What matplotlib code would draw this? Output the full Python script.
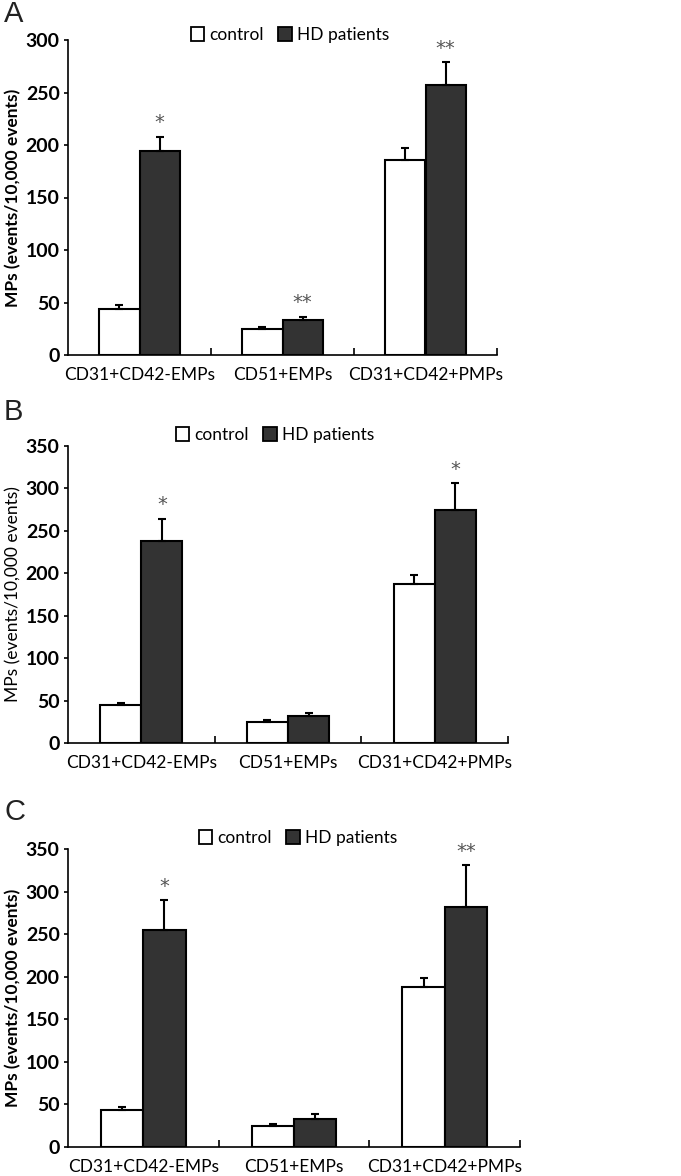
import matplotlib
matplotlib.use("Agg")
import matplotlib.pyplot as plt
from matplotlib.patches import Patch

plt.rcParams['font.family'] = ['Lato', 'DejaVu Sans']

categories = ['CD31+CD42-EMPs', 'CD51+EMPs', 'CD31+CD42+PMPs']
series = ['control', 'HD patients']

# panel A
a_control = [43.5, 25, 186]
a_control_err = [4, 2, 11]
a_hd = [194, 33, 257]
a_hd_err = [14, 3.5, 22]
a_stars = ['*', '**', '**']

# panel B
b_control = [44.5, 25, 187.5]
b_control_err = [2.5, 2.5, 11]
b_hd = [237.5, 32, 274]
b_hd_err = [27, 3, 32]
b_stars = ['*', '', '*']

# panel C
c_control = [44, 25, 187.5]
c_control_err = [3.5, 2.5, 11]
c_hd = [255, 33, 282]
c_hd_err = [35, 6, 49]
c_stars = ['*', '', '**']

W, H = 681, 1176
fig = plt.figure(figsize=(W / 100, H / 100), dpi=100)


def px_axes(left, right, top, bottom):
    return fig.add_axes([left / W, 1 - bottom / H, (right - left) / W, (bottom - top) / H])


def panel(ax, ctrl, ctrl_err, hd, hd_err, stars, ymax, star_gap, label_bold):
    x = range(len(categories))
    w = 0.28
    xc = [i - w / 2 for i in x]
    xh = [i + w / 2 for i in x]
    ax.bar(xc, ctrl, w, color='white', edgecolor='black', linewidth=1.5,
           yerr=[[0] * 3, ctrl_err], error_kw=dict(ecolor='black', elinewidth=1.5, capsize=3, capthick=1.5))
    ax.bar(xh, hd, w, color='#333333', edgecolor='black', linewidth=1.5,
           yerr=[[0] * 3, hd_err], error_kw=dict(ecolor='black', elinewidth=1.5, capsize=3, capthick=1.5))
    for i in x:
        if stars[i]:
            ax.text(xh[i], hd[i] + hd_err[i] + star_gap, stars[i], ha='center', va='bottom',
                    fontsize=14, color='#555555', family='DejaVu Sans')
    ax.set_xlim(-0.5, 2.5)
    ax.set_ylim(0, ymax)
    ax.set_yticks(range(0, ymax + 1, 50))
    ax.set_xticks(list(x))
    ax.set_xticklabels(categories, fontsize=12.5)
    ax.set_xticks([0.5, 1.5, 2.5], minor=True)
    ax.tick_params(axis='x', which='major', length=0, pad=9)
    ax.tick_params(axis='x', which='minor', direction='in', length=5, width=1.2)
    ax.tick_params(axis='y', direction='out', length=3, width=1.2, labelsize=14, pad=3)
    for t in ax.get_yticklabels():
        t.set_fontweight('bold')
    for s in ['top', 'right']:
        ax.spines[s].set_visible(False)
    for s in ['left', 'bottom']:
        ax.spines[s].set_linewidth(1.2)
    ax.set_ylabel('MPs (events/10,000 events)', fontsize=12.5,
                  fontweight='bold' if label_bold else 'normal', labelpad=3)


def legend(ax, cx, cy):
    handles = [Patch(facecolor='white', edgecolor='black', linewidth=1.3),
               Patch(facecolor='#333333', edgecolor='black', linewidth=1.3)]
    ax.legend(handles, series, loc='center', bbox_to_anchor=(cx / W, 1 - cy / H),
              bbox_transform=fig.transFigure, ncol=2, frameon=False, fontsize=12.5,
              handlelength=0.8, handleheight=0.9, columnspacing=0.8, handletextpad=0.3)


axA = px_axes(68, 497, 40, 355)
panel(axA, a_control, a_control_err, a_hd, a_hd_err, a_stars, 300, 4, True)
legend(axA, 290, 35)

axB = px_axes(68, 508, 446, 743)
panel(axB, b_control, b_control_err, b_hd, b_hd_err, b_stars, 350, 5, False)
legend(axB, 275, 435)

axC = px_axes(68, 520, 849, 1147)
panel(axC, c_control, c_control_err, c_hd, c_hd_err, c_stars, 350, 5, True)
legend(axC, 298, 838)

for lab, y in [('A', 14), ('B', 412), ('C', 812)]:
    fig.text(4 / W, 1 - y / H, lab, fontsize=21, family='Liberation Sans',
             va='center', ha='left', color='#222222')

fig.savefig('out.png', dpi=100)
